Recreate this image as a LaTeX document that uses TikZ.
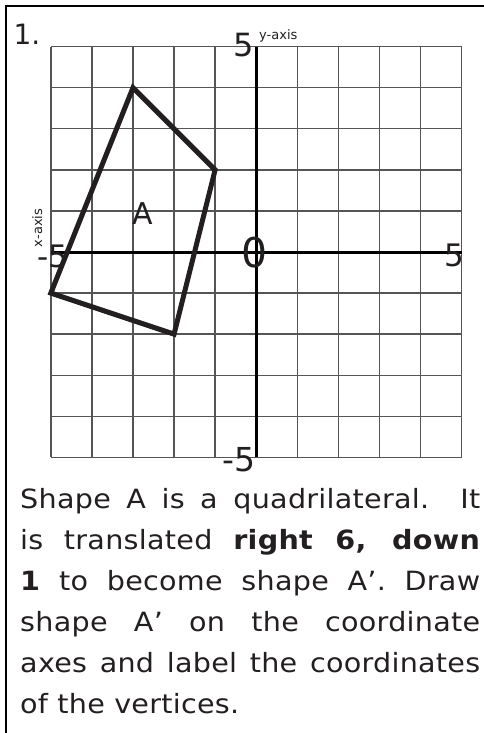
\documentclass[tikz,border=0pt]{standalone}
\usepackage{fontspec}
\setmainfont{DejaVu Sans}
\newfontfamily\bodyfont[FakeStretch=1.08,LetterSpace=1]{DejaVu Sans}
\definecolor{ink}{HTML}{231F20}
\definecolor{gridgray}{HTML}{555555}
\begin{document}
\begin{tikzpicture}[x=1pt,y=-1pt,
  gridline/.style={draw=gridgray,line width=1.4pt},
  axisline/.style={draw=black,line width=3pt},
  shapeline/.style={draw=ink,line width=5pt,line join=miter},
  frameline/.style={draw=black,line width=2.4pt},
  lbl/.style={inner sep=0pt,text=ink,anchor=center}]
\useasboundingbox (0,0) rectangle (484,733);
% frame
\coordinate (fb) at (6.2,733);
\coordinate (ftl) at (6.2,6.2);
\coordinate (fr) at (484,6.2);
\draw[frameline] (fb) -- (ftl) -- (fr);
% grid
\begin{scope}[shift={(256.2,252)},x=41.07pt,y=41.07pt]
  \foreach \i in {-5,...,5}{
    \draw[gridline] (\i,-5) -- (\i,5);
    \draw[gridline] (-5,\i) -- (5,\i);
  }
  \coordinate (xl) at (-5,0); \coordinate (xr) at (5,0);
  \coordinate (yb) at (0,-5); \coordinate (yt) at (0,5);
  \draw[axisline] (xl) -- (xr);
  \draw[axisline] (yb) -- (yt);
  \coordinate (p1) at (-3,4);
  \coordinate (p2) at (-1,2);
  \coordinate (p3) at (-2,-2);
  \coordinate (p4) at (-5,-1);
  \draw[shapeline] (p1) -- (p2) -- (p3) -- (p4) -- cycle;
\end{scope}
% labels
\node[lbl] (num) at (27,34.5) {\fontsize{28}{28}\selectfont 1.};
\node[lbl] (ytop) at (243.5,45) {\fontsize{32}{32}\selectfont 5};
\node[inner sep=0pt,text=ink,anchor=base west] (ylab) at (259,40) {\fontsize{13}{13}\selectfont y-axis};
\node[inner sep=0pt,text=ink,anchor=base,rotate=90] (xlab) at (42,228) {\fontsize{13}{13}\selectfont x-axis};
\node[lbl] (xleft) at (53,256) {\fontsize{31}{31}\selectfont -5};
\node[lbl] (zero) at (255,253) {\fontsize{41}{41}\selectfont 0};
\node[lbl] (xright) at (454.5,255) {\fontsize{31}{31}\selectfont 5};
\node[lbl] (ybot) at (239,460) {\fontsize{33}{33}\selectfont -5};
\node[lbl] (shA) at (143,214) {\fontsize{30}{30}\selectfont A};
% text
\node[inner sep=0pt,anchor=north west,text width=460pt,align=justify,text=ink,
      font=\bodyfont\fontsize{26.5}{41}\selectfont] (body) at (20,488)
{Shape A is a quadrilateral. It\linebreak
is translated \textbf{right 6, down}\linebreak
\textbf{1} to become shape A’. Draw\linebreak
shape A’ on the coordinate\linebreak
axes and label the coordinates\linebreak
of the vertices.};
\end{tikzpicture}
\end{document}
